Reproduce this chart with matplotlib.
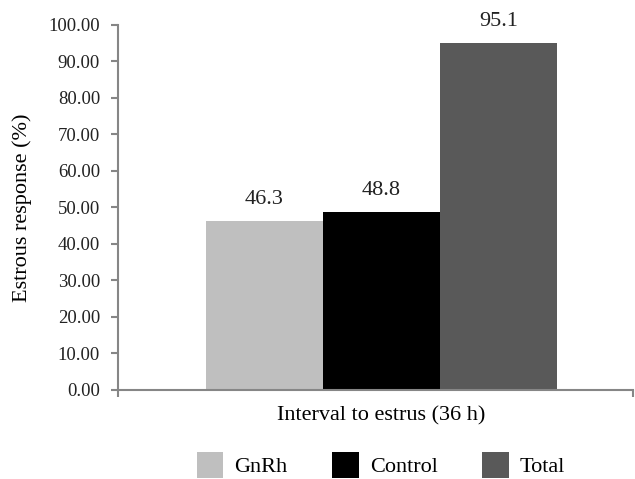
import matplotlib
matplotlib.use("Agg")
import matplotlib.pyplot as plt

groups = ["GnRh", "Control", "Total"]
values = [46.3, 48.8, 95.1]
colors = ["#bfbfbf", "#000000", "#595959"]
category = "Interval to estrus (36 h)"
yticks = [0, 10, 20, 30, 40, 50, 60, 70, 80, 90, 100]

plt.rcParams['font.family'] = ['Liberation Serif', 'DejaVu Serif']

fig = plt.figure(figsize=(6.35, 4.79), dpi=100)
ax = fig.add_axes([0.186, 0.186, 0.811, 0.762])

offsets = [-1, 0, 1]
for off, name, val, col in zip(offsets, groups, values, colors):
    ax.bar(off, val, width=1.0, color=col, label=name)
    ax.text(off, val + 3.3, f"{val:.1f}", ha="center", va="bottom", fontsize=16, color="#222222")

ax.set_xlim(-2.25, 2.15)
ax.set_ylim(0, 100)
ax.set_yticks(yticks)
ax.set_yticklabels([f"{t:.2f}" for t in yticks], fontsize=13.5)
ax.set_xticks([-2.25, 2.15])
ax.set_xticklabels(["", ""])
ax.set_ylabel("Estrous response (%)", fontsize=16, labelpad=12)
ax.set_xlabel(category, fontsize=16)
ax.xaxis.set_label_coords(0.51, -0.045, transform=ax.transAxes)
ax.xaxis.label.set_va("top")

for s in ["top", "right"]:
    ax.spines[s].set_visible(False)
for s in ["left", "bottom"]:
    ax.spines[s].set_color("#868686")
    ax.spines[s].set_linewidth(1.5)
ax.tick_params(axis="both", color="#868686", width=1.5, length=5, labelcolor="#222222", pad=8)

fig.legend(loc="lower center", bbox_to_anchor=(0.6, -0.04), ncol=3, frameon=False,
           handlelength=1.2, handleheight=1.45, columnspacing=2.0, handletextpad=0.5,
           fontsize=16)

fig.savefig("out.png", dpi=100)
